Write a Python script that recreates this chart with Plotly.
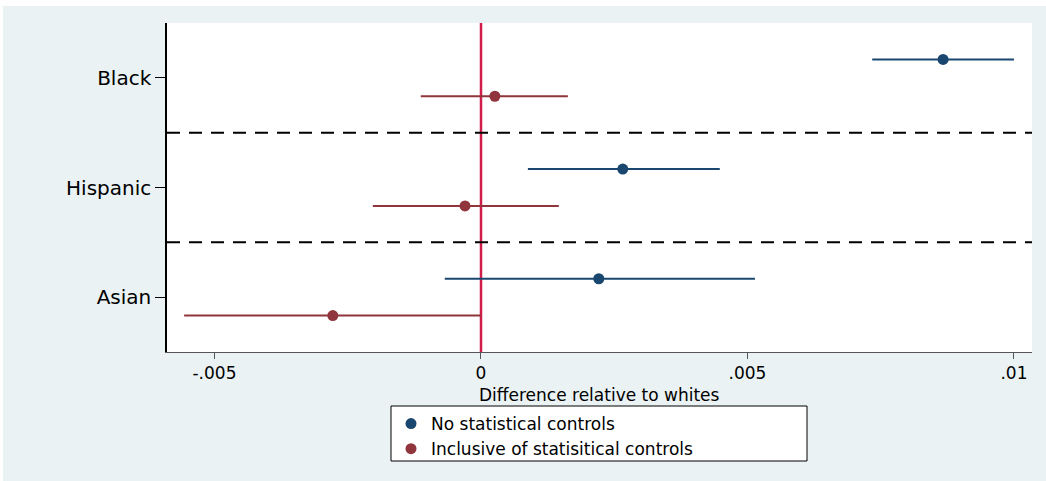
import plotly.graph_objects as go

# ---- data ----
categories = ["Black", "Hispanic", "Asian"]
cat_pos = [3, 2, 1]

est_nocontrols = [0.00867, 0.00266, 0.00221]
lo_nocontrols = [0.00734, 0.00088, -0.00068]
hi_nocontrols = [0.01000, 0.00448, 0.00514]

est_controls = [0.00026, -0.00030, -0.00278]
lo_controls = [-0.00113, -0.00203, -0.00557]
hi_controls = [0.00163, 0.00146, 0.00000]

xticks = [-0.005, 0, 0.005, 0.01]
xticklabels = ["-.005", "0", ".005", ".01"]
xtitle = "Difference relative to whites"

BLUE = "#1A476F"
RED = "#90353B"
BG = "#EAF2F3"
FONT = "DejaVu Sans"
OFF = 0.168

# plot-area pixel geometry (for placing things in the margins)
L, R, T, B = 167, 1032, 23, 352
PW, PH = R - L, B - T


def px(xp):
    return (xp - L) / PW


def py(yp):
    return (B - yp) / PH


fig = go.Figure()

fig.add_trace(go.Scatter(
    x=est_nocontrols, y=[p + OFF for p in cat_pos], mode="markers",
    name="No statistical controls",
    marker=dict(color=BLUE, size=11),
    error_x=dict(type="data", symmetric=False,
                 array=[h - e for h, e in zip(hi_nocontrols, est_nocontrols)],
                 arrayminus=[e - l for e, l in zip(est_nocontrols, lo_nocontrols)],
                 color=BLUE, thickness=2, width=0),
))
fig.add_trace(go.Scatter(
    x=est_controls, y=[p - OFF for p in cat_pos], mode="markers",
    name="Inclusive of statisitical controls",
    marker=dict(color=RED, size=11),
    error_x=dict(type="data", symmetric=False,
                 array=[h - e for h, e in zip(hi_controls, est_controls)],
                 arrayminus=[e - l for e, l in zip(est_controls, lo_controls)],
                 color=RED, thickness=2, width=0),
))

shapes = []
# zero line
shapes.append(dict(type="line", xref="x", yref="paper", x0=0, x1=0, y0=0, y1=1,
                   line=dict(color="#D01C49", width=2.5), layer="below"))
# dashed separators
for yv in [2.5, 1.5]:
    shapes.append(dict(type="line", xref="paper", yref="y", x0=0, x1=1, y0=yv, y1=yv,
                       line=dict(color="black", width=2, dash="13px,9px"), layer="below"))
# white strips at the top and left edges of the image
shapes.append(dict(type="rect", xref="paper", yref="paper", x0=px(-5), x1=px(1050),
                   y0=py(6), y1=py(-5), fillcolor="white", line=dict(width=0)))
shapes.append(dict(type="rect", xref="paper", yref="paper", x0=px(-5), x1=px(3),
                   y0=py(490), y1=py(-5), fillcolor="white", line=dict(width=0)))
# legend box
shapes.append(dict(type="rect", xref="paper", yref="paper", x0=px(391), x1=px(807),
                   y0=py(461), y1=py(406), fillcolor="white",
                   line=dict(color="black", width=1)))

fig.update_layout(
    width=1046, height=481,
    margin=dict(l=L, r=1046 - R, t=T, b=481 - B),
    paper_bgcolor=BG, plot_bgcolor="white",
    font=dict(family=FONT, size=17, color="black"),
    shapes=shapes,
    annotations=[dict(text=xtitle, xref="paper", yref="paper", x=0.5, y=py(395),
                      xanchor="center", yanchor="middle", showarrow=False,
                      font=dict(family=FONT, size=17, color="black"))],
    showlegend=True,
    legend=dict(x=px(391), y=py(406), xanchor="left", yanchor="top",
                bgcolor="rgba(0,0,0,0)", borderwidth=0,
                font=dict(family=FONT, size=17), tracegroupgap=0),
    xaxis=dict(range=[-0.005891, 0.010338], tickvals=xticks, ticktext=xticklabels,
               showgrid=False, zeroline=False, showline=True, linecolor="#555555",
               linewidth=1, ticks="outside", ticklen=6, tickcolor="#555555",
               tickfont=dict(size=17)),
    yaxis=dict(range=[0.5, 3.5], tickvals=cat_pos, ticktext=categories,
               showgrid=False, zeroline=False, showline=True, linecolor="black",
               linewidth=1.5, ticks="outside", ticklen=10, tickcolor="black",
               tickfont=dict(size=20)),
)

fig.write_html("out.html")
